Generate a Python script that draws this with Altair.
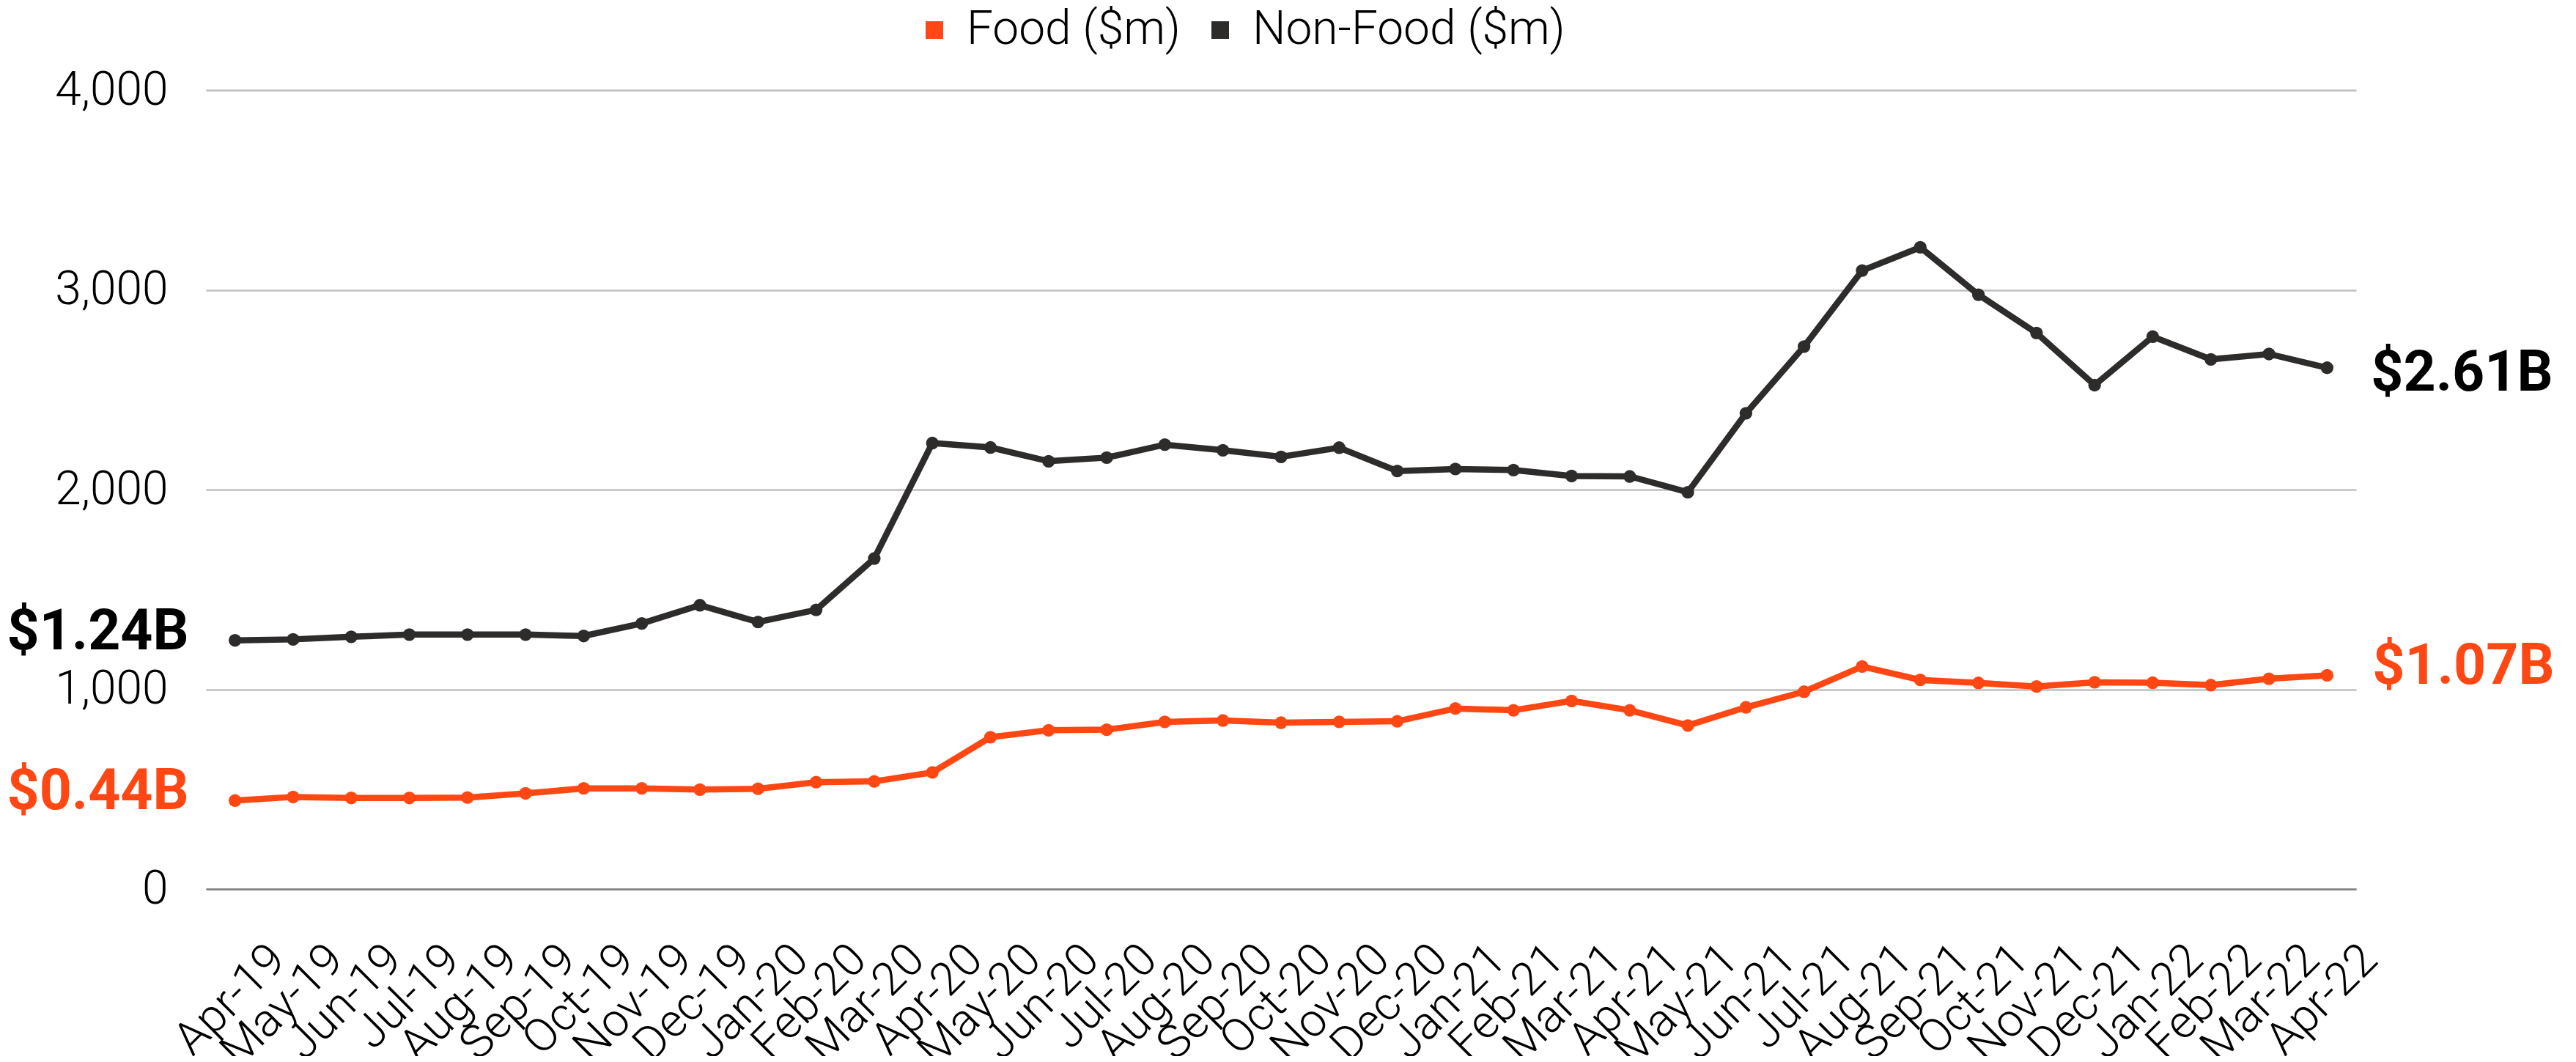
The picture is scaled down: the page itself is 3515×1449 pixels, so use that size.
import altair as alt
import pandas as pd

months = ["Apr-19", "May-19", "Jun-19", "Jul-19", "Aug-19", "Sep-19", "Oct-19", "Nov-19",
          "Dec-19", "Jan-20", "Feb-20", "Mar-20", "Apr-20", "May-20", "Jun-20", "Jul-20",
          "Aug-20", "Sep-20", "Oct-20", "Nov-20", "Dec-20", "Jan-21", "Feb-21", "Mar-21",
          "Apr-21", "May-21", "Jun-21", "Jul-21", "Aug-21", "Sep-21", "Oct-21", "Nov-21",
          "Dec-21", "Jan-22", "Feb-22", "Mar-22", "Apr-22"]

food = [443, 461, 456, 456, 458, 479, 504, 504, 498, 502, 535, 539,
        584, 760, 795, 798, 837, 844, 833, 837, 840, 904, 895, 942,
        895, 819, 910, 988, 1114, 1047, 1032, 1014, 1035, 1033, 1021, 1053,
        1070]

non_food = [1245, 1250, 1263, 1274, 1274, 1274, 1267, 1330, 1421, 1337, 1398, 1655,
            2233, 2211, 2142, 2160, 2225, 2197, 2164, 2210, 2093, 2103, 2098, 2068,
            2066, 1987, 2382, 2716, 3097, 3213, 2976, 2784, 2523, 2766, 2652, 2679,
            2610]

series_names = ["Food ($m)", "Non-Food ($m)"]
series_colors = ["#FF4713", "#2E2B2B"]
label_colors = ["#FF4713", "#000000"]

start_labels = ["$0.44B", "$1.24B"]
end_labels = ["$1.07B", "$2.61B"]
y_ticks = [0, 1000, 2000, 3000, 4000]

rows = []
for name, vals in zip(series_names, [food, non_food]):
    for m, v in zip(months, vals):
        rows.append({"month": m, "series": name, "value": v})
df = pd.DataFrame(rows)

lab_rows = []
for i, (name, vals) in enumerate(zip(series_names, [food, non_food])):
    lab_rows.append({"month": months[0], "series": name, "value": vals[0],
                     "text": start_labels[i], "side": "start"})
    lab_rows.append({"month": months[-1], "series": name, "value": vals[-1],
                     "text": end_labels[i], "side": "end"})
labels = pd.DataFrame(lab_rows)

LIGHT = "Roboto"
BOLD = "Roboto"

x_enc = alt.X("month:O", sort=months,
              scale=alt.Scale(type="point", padding=0.5),
              axis=alt.Axis(title=None, labelAngle=315, labelAlign="right",
                            labelBaseline="top", labelOffset=36, labelPadding=64,
                            labelFont=LIGHT, labelFontWeight=300, labelFontSize=63,
                            labelColor="#000000", labelOverlap=False, labelBound=False,
                            labelFlush=False, labelLimit=0, ticks=False, domain=True,
                            domainColor="#808080", domainWidth=2.5, grid=False))
y_enc = alt.Y("value:Q",
              scale=alt.Scale(domain=[0, 4000], nice=False),
              axis=alt.Axis(title=None, values=y_ticks, format=",.0f", ticks=False,
                            domain=False, grid=True, gridColor="#BFBFBF", gridWidth=2.5,
                            labelFont=LIGHT, labelFontWeight=300, labelFontSize=64,
                            labelColor="#000000", labelPadding=52))
color_scale = alt.Scale(domain=series_names, range=series_colors)

lines = alt.Chart(df).mark_line(strokeWidth=8.5).encode(
    x=x_enc, y=y_enc,
    color=alt.Color("series:N", scale=color_scale, legend=None))

points = alt.Chart(df).mark_circle(size=300, opacity=1).encode(
    x=x_enc, y=y_enc,
    color=alt.Color("series:N", scale=color_scale,
                    legend=alt.Legend(title=None, orient="none", direction="horizontal",
                                      legendX=962, legendY=-114, padding=0,
                                      symbolType="square", symbolSize=576,
                                      symbolStrokeWidth=0, labelFont=LIGHT,
                                      labelFontWeight=300, labelFontSize=64,
                                      labelColor="#000000", labelOffset=12,
                                      columnPadding=22, labelLimit=0)))

label_color = alt.Color("series:N", scale=alt.Scale(domain=series_names, range=label_colors),
                        legend=None)


def text_layer(cond, align, dx, dy):
    return alt.Chart(labels).transform_filter(cond).mark_text(
        font=BOLD, fontWeight="bold", fontSize=77, align=align,
        baseline="alphabetic", dx=dx, dy=dy).encode(
        x=alt.X("month:O", sort=months), y=alt.Y("value:Q"),
        text="text:N", color=label_color)


t_start = text_layer("datum.side == 'start'", "right", -63, 12)
t_end_food = text_layer("datum.side == 'end' && datum.series == 'Food ($m)'", "left", 62, 12)
t_end_non = text_layer("datum.side == 'end' && datum.series == 'Non-Food ($m)'", "left", 60, 31)

chart = alt.layer(lines, points, t_start, t_end_food, t_end_non).resolve_scale(
    color="independent"
).properties(
    width=2934, height=1090,
    autosize=alt.AutoSizeParams(type="none"),
    padding={"left": 273, "top": 115, "right": 290, "bottom": 228},
    background="white"
).configure_view(stroke=None)

chart.save("out.html", embed_options={"renderer": "svg", "actions": False})
